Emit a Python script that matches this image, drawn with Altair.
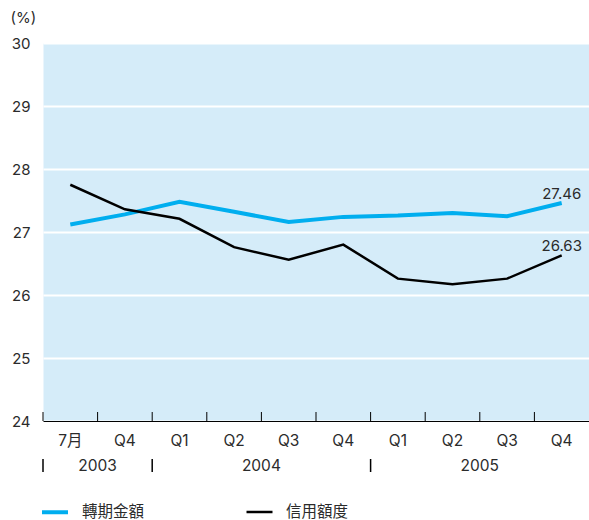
import altair as alt
import pandas as pd

# Quarterly categories (first point is July 2003)
periods = ["7月", "Q4", "Q1", "Q2", "Q3", "Q4", "Q1", "Q2", "Q3", "Q4"]
years = ["2003", "2003", "2004", "2004", "2004", "2004", "2005", "2005", "2005", "2005"]

# Series values (%)
series_names = ["轉期金額", "信用額度"]
rollover = [27.12, 27.28, 27.48, 27.32, 27.16, 27.24, 27.26, 27.30, 27.25, 27.46]
credit = [27.75, 27.36, 27.21, 26.76, 26.56, 26.80, 26.26, 26.17, 26.26, 26.63]

y_ticks = [24, 25, 26, 27, 28, 29, 30]

FONT = "Inter, Noto Sans CJK TC, sans-serif"
TEXT = "#2b2b2b"
FS = 15.5     # category, year and legend labels
FS_Y = 15     # value axis and end labels
W, H = 546, 378

keys = [f"{y}|{p}" for y, p in zip(years, periods)]

rows = []
for name, vals in zip(series_names, [rollover, credit]):
    for k, v in zip(keys, vals):
        rows.append({"key": k, "series": name, "value": v})
df = pd.DataFrame(rows)

# Year groups: separator at the first quarter, label centred over the span
year_rows = []
for yr in dict.fromkeys(years):
    idx = [i for i, y in enumerate(years) if y == yr]
    start, end = idx[0], idx[-1] + 1
    year_rows.append({"year": yr, "start": keys[start], "mid": keys[(start + end) // 2]})
years_df = pd.DataFrame(year_rows)
bounds_df = pd.DataFrame({"key": keys})

x_scale = alt.Scale(domain=keys, paddingInner=0, paddingOuter=0)
y_scale = alt.Scale(domain=[24, 30], nice=False, zero=False)

color = alt.Color(
    "series:N",
    scale=alt.Scale(domain=series_names, range=["#00aeef", "#000000"]),
    legend=alt.Legend(
        title=None, orient="none", legendX=-3, legendY=H + 76,
        direction="horizontal", symbolType="stroke", symbolSize=676,
        labelFontSize=FS, labelFont=FONT, labelColor=TEXT,
        labelOffset=12, columnPadding=96, padding=0,
    ),
)
width = alt.StrokeWidth(
    "series:N",
    scale=alt.Scale(domain=series_names, range=[4, 2.5]),
    legend=None,
)

base = alt.Chart(df).encode(
    x=alt.X(
        "key:N", sort=keys, scale=x_scale,
        axis=alt.Axis(
            title=None, labelExpr="split(datum.label, '|')[1]", labelAngle=0,
            ticks=False, grid=False, domainColor="#000000", domainWidth=1,
            labelPadding=12, labelFontSize=FS, labelFont=FONT, labelColor=TEXT,
        ),
    ),
    y=alt.Y(
        "value:Q", scale=y_scale,
        axis=alt.Axis(
            values=y_ticks, format="d", title="(%)", titleAngle=0, titleAlign="left",
            titleBaseline="middle", titleX=-33, titleY=-26,
            titleFontWeight="normal", titleFontSize=FS_Y, titleFont=FONT,
            titleColor=TEXT, domain=False, ticks=False, labelPadding=13,
            labelFontSize=FS_Y, labelFont=FONT, labelColor=TEXT,
            gridColor="#ffffff", gridWidth=2, gridOpacity=1,
        ),
    ),
    color=color,
    strokeWidth=width,
)

line_rollover = base.mark_line().transform_filter(alt.datum.series == series_names[0])
line_credit = base.mark_line().transform_filter(alt.datum.series == series_names[1])

end_labels = alt.Chart(df).mark_text(
    align="center", baseline="alphabetic", dy=-4, fontSize=FS_Y, font=FONT, color=TEXT
).encode(
    x=alt.X("key:N", sort=keys, scale=x_scale),
    y=alt.Y("value:Q", scale=y_scale),
    text=alt.Text("value:Q", format=".2f"),
).transform_filter(alt.datum.key == keys[-1])

# Inward tick marks at category boundaries
bound_ticks = alt.Chart(bounds_df).mark_rule(color="#000000", strokeWidth=1).encode(
    x=alt.X("key:N", sort=keys, scale=x_scale, bandPosition=0),
    y=alt.value(H - 9),
    y2=alt.value(H),
)

year_seps = alt.Chart(years_df).mark_rule(color="#000000", strokeWidth=1.5).encode(
    x=alt.X("start:N", sort=keys, scale=x_scale, bandPosition=0),
    y=alt.value(H + 38),
    y2=alt.value(H + 51),
)

year_text = alt.Chart(years_df).mark_text(
    align="center", baseline="middle", fontSize=FS, font=FONT, color=TEXT
).encode(
    x=alt.X("mid:N", sort=keys, scale=x_scale, bandPosition=0),
    y=alt.value(H + 45),
    text="year:N",
)

chart = alt.layer(
    line_rollover, line_credit, end_labels, bound_ticks, year_seps, year_text
).properties(
    width=W, height=H,
    background="#ffffff",
    autosize=alt.AutoSizeParams(type="none"),
    padding={"left": 43, "top": 43, "right": 0, "bottom": 99},
).configure_view(
    fill="#d5ecf9", stroke="transparent"
)

chart.save("out.html", embed_options={"renderer": "svg", "actions": False})
